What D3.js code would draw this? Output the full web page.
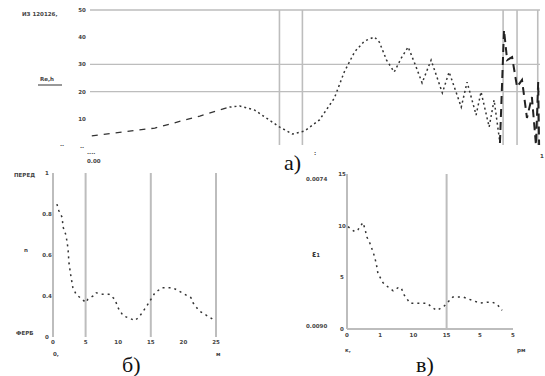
<!DOCTYPE html>
<html>
<head>
<meta charset="utf-8">
<script src="https://cdn.jsdelivr.net/npm/d3@7"></script>
<style>
  body { margin: 0; background: #fff; }
  svg { display: block; }
  .tiny { font-family: "DejaVu Sans", sans-serif; font-size: 5.5px; font-weight: bold; fill: #444; }
  .cap { font-family: "Liberation Serif", serif; font-size: 22px; fill: #111; }
</style>
</head>
<body>
<svg id="chart" width="545" height="376"></svg>
<script>
// panel a) data
const aX = [0.004, 0.144, 0.244, 0.31, 0.333, 0.366, 0.421, 0.45, 0.477, 0.51, 0.543, 0.565, 0.588, 0.61, 0.632,
  0.643, 0.659, 0.676, 0.692, 0.707, 0.723, 0.738, 0.758, 0.783, 0.798, 0.825, 0.838, 0.858, 0.869, 0.887,
  0.898, 0.911, 0.92, 0.927, 0.938, 0.949, 0.96, 0.971, 0.982, 0.991, 0.996, 0.998];
const aY = [3.7, 6.6, 11.0, 14.3, 14.7, 13.2, 7.0, 4.4, 5.5, 9.6, 17.6, 27.2, 34.6, 38.6, 40.1,
  38.2, 31.6, 27.2, 32.4, 36.4, 29.8, 23.2, 31.6, 19.5, 27.2, 14.3, 23.5, 11.4, 19.9, 7.0,
  16.9, 1.1, 42.6, 31.6, 32.7, 21.7, 24.3, 10.3, 18.0, 0.4, 23.5, 0.4];
const aTicks = [0, 10, 20, 30, 40, 50];
const aTickLabels = ["..", "10", "20", "30", "40", "50"];
const aGridY = [20, 30, 50];
const aMarkX = [0.421, 0.472, 0.918, 0.949, 0.995];

// panel б) data
const bX = [0.12, 0.18, 0.28, 0.31, 0.40, 0.46, 0.49, 0.55, 0.61, 0.71, 1.01, 1.07, 1.23, 1.32, 1.53,
  1.72, 1.90, 1.99, 2.15, 2.52, 2.67, 2.88, 3.13, 3.34, 3.44, 3.68, 4.23, 4.29, 4.48, 4.97];
const bY = [0.81, 0.77, 0.73, 0.67, 0.62, 0.54, 0.45, 0.37, 0.30, 0.26, 0.21, 0.23, 0.25, 0.27, 0.26,
  0.26, 0.23, 0.18, 0.13, 0.10, 0.13, 0.19, 0.27, 0.30, 0.30, 0.30, 0.24, 0.21, 0.16, 0.10];
const bTicks = [0, 0.25, 0.5, 0.75, 1];
const bTickLabels = ["0", "0.4", "0.6", "0.8", "1"];
const bXTicks = [0, 1, 2, 3, 4, 5];
const bXTickLabels = ["0", "5", "10", "15", "20", "25"];
const bMarkX = [0, 1, 3, 5];

// panel в) data
const cX = [0.03, 0.15, 0.24, 0.33, 0.48, 0.54, 0.60, 0.69, 0.78, 0.84, 0.90, 0.93, 1.08, 1.14, 1.39, 1.54,
  1.63, 1.72, 1.90, 2.14, 2.41, 2.56, 2.71, 2.92, 3.19, 3.49, 3.92, 4.01, 4.22, 4.37, 4.52, 4.67];
const cY = [9.9, 9.6, 9.4, 9.6, 10.3, 9.7, 8.9, 8.3, 7.5, 6.9, 6.0, 5.4, 4.5, 4.3, 3.7, 4.0,
  4.0, 3.3, 2.5, 2.5, 2.5, 2.1, 1.8, 2.2, 3.1, 3.1, 2.6, 2.5, 2.6, 2.6, 2.4, 1.8];
const cTicks = [0, 5, 10, 15];
const cTickLabels = ["0", "5", "10", "15"];
const cXTicks = [0, 1, 2, 3, 4, 5];
const cXTickLabels = ["0", "1", "10", "15", "5", "5"];
const cMarkX = [3];

const svg = d3.select("#chart");
const grid = "#bdbdbd";

// ---------- panel a ----------
const xa = d3.scaleLinear().domain([0, 1]).range([90, 540]);
const ya = d3.scaleLinear().domain([0, 50]).range([146, 10]);

svg.append("g").selectAll("line").data(aGridY).enter().append("line")
  .attr("x1", xa(0)).attr("x2", xa(1))
  .attr("y1", d => ya(d)).attr("y2", d => ya(d))
  .attr("stroke", grid).attr("stroke-width", 1.4);

svg.append("g").selectAll("line").data(aMarkX).enter().append("line")
  .attr("x1", d => xa(d)).attr("x2", d => xa(d))
  .attr("y1", ya(50)).attr("y2", ya(0) - 1)
  .attr("stroke", grid).attr("stroke-width", 1.6);

svg.append("g").selectAll("text").data(aTicks).enter().append("text")
  .attr("class", "tiny").attr("x", 82).attr("y", d => ya(d) + 2)
  .attr("text-anchor", "middle").text((d, i) => aTickLabels[i]);

const lineA = d3.line().x(d => xa(d[0])).y(d => ya(d[1]));
const ptsA = aX.map((x, i) => [x, aY[i]]);
svg.append("path").datum(ptsA.slice(0, 4)).attr("d", lineA)
  .attr("fill", "none").attr("stroke", "#333").attr("stroke-width", 1.3).attr("stroke-dasharray", "6,6");
svg.append("path").datum(ptsA.slice(3, 32)).attr("d", lineA)
  .attr("fill", "none").attr("stroke", "#333").attr("stroke-width", 1.5).attr("stroke-dasharray", "2,3");
svg.append("path").datum(ptsA.slice(31)).attr("d", lineA)
  .attr("fill", "none").attr("stroke", "#222").attr("stroke-width", 2).attr("stroke-dasharray", "8,5");

svg.append("text").attr("class", "tiny").attr("x", 22).attr("y", 16).text("ИЗ 120126,");
svg.append("text").attr("class", "tiny").attr("x", 40).attr("y", 81).text("Re,h");
svg.append("line").attr("x1", 38).attr("x2", 62).attr("y1", 85).attr("y2", 85).attr("stroke", "#333").attr("stroke-width", 1);
svg.append("text").attr("class", "tiny").attr("x", 60).attr("y", 146).text("..");
svg.append("text").attr("class", "tiny").attr("x", 87).attr("y", 154).text("....");
svg.append("text").attr("class", "tiny").attr("x", 87).attr("y", 163).text("0.00");
svg.append("text").attr("class", "tiny").attr("x", 542).attr("y", 158).attr("text-anchor", "middle").text("1");
svg.append("text").attr("class", "cap").attr("x", 284).attr("y", 170).text("а)");
svg.append("text").attr("class", "tiny").attr("x", 314).attr("y", 155).text(":");

// ---------- panel б ----------
const xb = d3.scaleLinear().domain([0, 5]).range([53, 216]);
const yb = d3.scaleLinear().domain([0, 1]).range([337, 173]);

svg.append("g").selectAll("line").data(bMarkX).enter().append("line")
  .attr("x1", d => xb(d)).attr("x2", d => xb(d))
  .attr("y1", yb(1)).attr("y2", yb(0))
  .attr("stroke", grid).attr("stroke-width", 2);

svg.append("g").selectAll("text").data(bTicks).enter().append("text")
  .attr("class", "tiny").attr("x", 47).attr("y", d => yb(d) + 2)
  .attr("text-anchor", "middle").text((d, i) => bTickLabels[i]);
svg.append("g").selectAll("text").data(bXTicks).enter().append("text")
  .attr("class", "tiny").attr("x", d => xb(d)).attr("y", 344)
  .attr("text-anchor", "middle").text((d, i) => bXTickLabels[i]);

svg.append("path").datum(bX.map((x, i) => [x, bY[i]]))
  .attr("d", d3.line().x(d => xb(d[0])).y(d => yb(d[1])))
  .attr("fill", "none").attr("stroke", "#333").attr("stroke-width", 1.5).attr("stroke-dasharray", "2,4");

svg.append("text").attr("class", "tiny").attr("x", 14).attr("y", 177).text("ПЕРЕД");
svg.append("text").attr("class", "tiny").attr("x", 24).attr("y", 252).text("n");
svg.append("text").attr("class", "tiny").attr("x", 16).attr("y", 335).text("ФЕРБ");
svg.append("text").attr("class", "tiny").attr("x", 53).attr("y", 356).text("0,");
svg.append("text").attr("class", "tiny").attr("x", 216).attr("y", 356).text("м");
svg.append("text").attr("class", "cap").attr("x", 122).attr("y", 372).text("б)");

// ---------- panel в ----------
const xc = d3.scaleLinear().domain([0, 5]).range([347, 513]);
const yc = d3.scaleLinear().domain([0, 15]).range([329, 174]);

svg.append("line").attr("x1", xc(0)).attr("x2", xc(0)).attr("y1", yc(15)).attr("y2", yc(0))
  .attr("stroke", grid).attr("stroke-width", 2);
svg.append("line").attr("x1", xc(0)).attr("x2", xc(5)).attr("y1", yc(0)).attr("y2", yc(0))
  .attr("stroke", grid).attr("stroke-width", 2);
svg.append("g").selectAll("line").data(cMarkX).enter().append("line")
  .attr("x1", d => xc(d)).attr("x2", d => xc(d))
  .attr("y1", yc(15)).attr("y2", yc(0))
  .attr("stroke", grid).attr("stroke-width", 2);

svg.append("g").selectAll("text").data(cTicks).enter().append("text")
  .attr("class", "tiny").attr("x", 342).attr("y", d => yc(d) + 2)
  .attr("text-anchor", "middle").text((d, i) => cTickLabels[i]);
svg.append("g").selectAll("text").data(cXTicks).enter().append("text")
  .attr("class", "tiny").attr("x", d => xc(d)).attr("y", 337)
  .attr("text-anchor", "middle").text((d, i) => cXTickLabels[i]);

svg.append("path").datum(cX.map((x, i) => [x, cY[i]]))
  .attr("d", d3.line().x(d => xc(d[0])).y(d => yc(d[1])))
  .attr("fill", "none").attr("stroke", "#333").attr("stroke-width", 1.5).attr("stroke-dasharray", "2,4");

svg.append("text").attr("class", "tiny").attr("x", 306).attr("y", 181).text("0.0074");
svg.append("text").attr("x", 312).attr("y", 257).style("font-family", "DejaVu Sans").style("font-size", "8px").style("font-weight", "bold").attr("fill", "#333").text("ε₁");
svg.append("text").attr("class", "tiny").attr("x", 306).attr("y", 328).text("0.0090");
svg.append("text").attr("class", "tiny").attr("x", 345).attr("y", 352).text("к,");
svg.append("text").attr("class", "tiny").attr("x", 517).attr("y", 352).text("рм");
svg.append("text").attr("class", "cap").attr("x", 416).attr("y", 372).text("в)");
</script>
</body>
</html>
